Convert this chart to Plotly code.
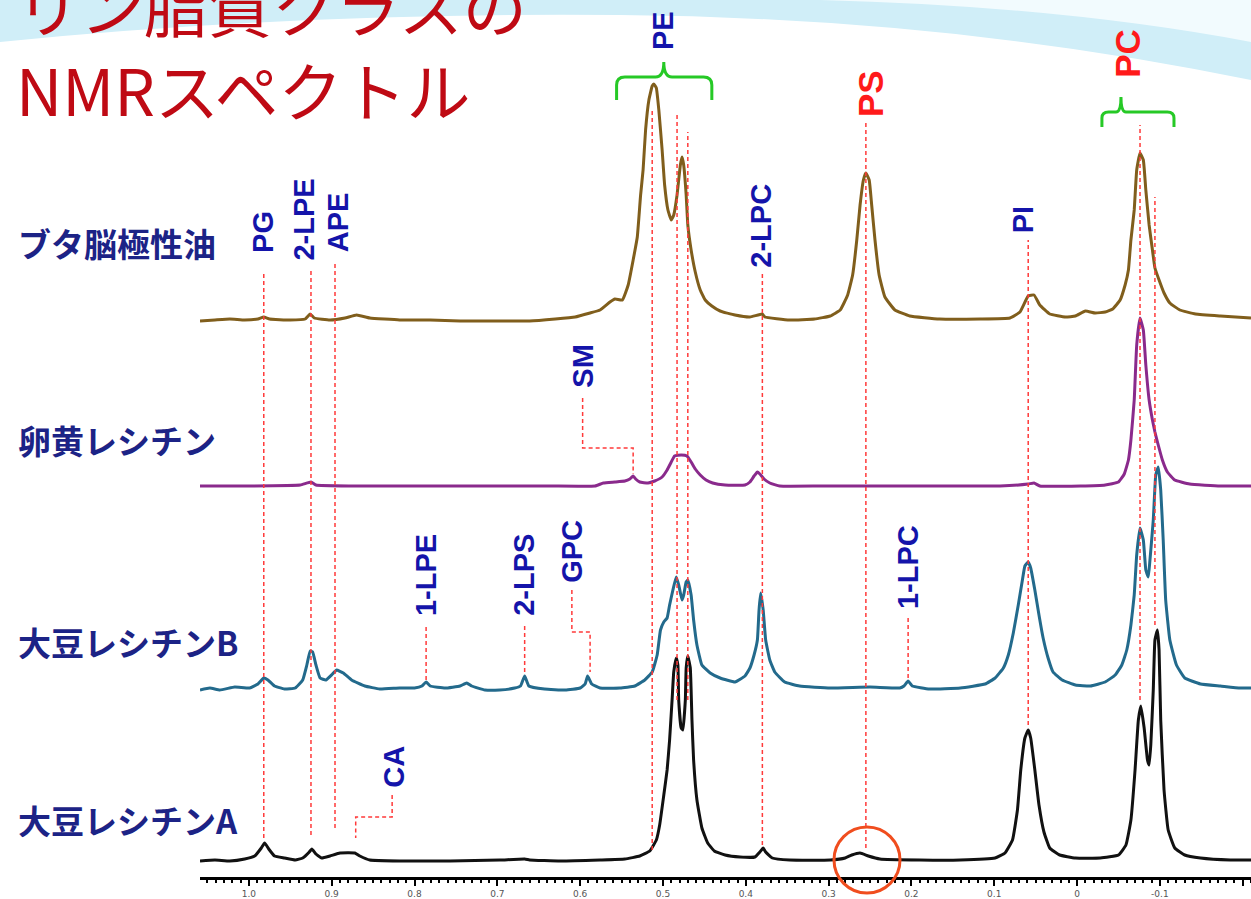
import plotly.graph_objects as go

W, H = 1251, 899

# ---------------- spectra: chemical shift (ppm) / relative intensity ----------------
buta_ppm = [1.059, 1.041, 1.023, 1.005, 0.989, 0.982, 0.975, 0.950, 0.932, 0.926, 0.921, 0.902, 0.884,
            0.870, 0.854, 0.818, 0.781, 0.745, 0.697, 0.661, 0.630, 0.606, 0.588, 0.576, 0.564, 0.558,
            0.549, 0.542, 0.536, 0.531, 0.527, 0.524, 0.521, 0.517, 0.513, 0.511, 0.508, 0.505, 0.501,
            0.498, 0.494, 0.490, 0.487, 0.483, 0.479, 0.477, 0.475, 0.472, 0.470, 0.466, 0.461, 0.455,
            0.449, 0.441, 0.431, 0.413, 0.395, 0.380, 0.377, 0.347, 0.317, 0.298, 0.286, 0.277, 0.271,
            0.266, 0.262, 0.258, 0.255, 0.251, 0.248, 0.244, 0.239, 0.232, 0.220, 0.202, 0.166, 0.117,
            0.081, 0.069, 0.059, 0.052, 0.045, 0.033, 0.014, 0.002, -0.010, -0.022, -0.034, -0.043,
            -0.052, -0.058, -0.062, -0.065, -0.069, -0.072, -0.076, -0.080, -0.083, -0.087, -0.091,
            -0.094, -0.099, -0.105, -0.112, -0.124, -0.143, -0.173, -0.210]
buta_int = [-1, 0, 1, 0, 1, 3, 1, 0, 1, 6, 2, 0, 2,
            5, 2, 0, 0, -1, -1, -1, 1, 3, 7, 10, 18, 21,
            20, 35, 60, 83, 125, 150, 190, 220, 234, 236, 232, 210, 170,
            135, 110, 100, 105, 125, 155, 163, 155, 125, 95, 70, 48, 30,
            20, 14, 9, 5, 3, 6, 3, 0, 1, 4, 10, 25, 45,
            80, 115, 140, 147, 140, 115, 80, 45, 23, 10, 4, 1, 1,
            2, 8, 24, 25, 15, 6, 3, 4, 9, 7, 8, 11,
            20, 35, 50, 80, 110, 150, 167, 160, 130, 95, 70,
            52, 40, 27, 17, 10, 6, 4, 2]

egg_ppm = [1.059, 0.999, 0.938, 0.925, 0.919, 0.878, 0.818, 0.757, 0.697, 0.636, 0.582, 0.572, 0.558,
           0.546, 0.540, 0.536, 0.533, 0.528, 0.518, 0.510, 0.501, 0.495, 0.490, 0.486, 0.478, 0.471,
           0.466, 0.461, 0.455, 0.448, 0.440, 0.425, 0.401, 0.395, 0.390, 0.386, 0.383, 0.378, 0.371,
           0.359, 0.310, 0.250, 0.153, 0.093, 0.059, 0.052, 0.045, -0.004, -0.034, -0.050, -0.057,
           -0.062, -0.065, -0.069, -0.072, -0.076, -0.080, -0.083, -0.087, -0.091, -0.094, -0.098,
           -0.103, -0.109, -0.118, -0.136, -0.173, -0.210]
egg_int = [0, 0, 1, 4, 1, 0, 0, 0, 0, 0, 0, 3, 4,
           5, 7, 10, 7, 4, 3, 5, 9, 16, 24, 30, 31, 30,
           24, 17, 11, 6, 3, 1, 1, 4, 10, 14, 12, 7, 3,
           0, 0, 0, 0, 0, 2, 3, 0, 0, 1, 4, 12,
           26, 46, 86, 141, 168, 156, 121, 86, 66, 54, 41,
           26, 14, 6, 2, 0, 0]

soyB_ppm = [1.059, 1.047, 1.035, 1.017, 0.999, 0.989, 0.982, 0.977, 0.969, 0.957, 0.944, 0.935, 0.930,
            0.926, 0.923, 0.919, 0.914, 0.907, 0.899, 0.894, 0.886, 0.876, 0.860, 0.842, 0.818, 0.800,
            0.791, 0.786, 0.781, 0.763, 0.745, 0.737, 0.731, 0.715, 0.697, 0.679, 0.672, 0.667, 0.662,
            0.643, 0.618, 0.600, 0.594, 0.591, 0.586, 0.576, 0.552, 0.534, 0.522, 0.513, 0.507, 0.503,
            0.499, 0.495, 0.492, 0.488, 0.484, 0.481, 0.477, 0.475, 0.472, 0.470, 0.466, 0.463, 0.459,
            0.453, 0.443, 0.431, 0.413, 0.401, 0.395, 0.390, 0.386, 0.384, 0.382, 0.379, 0.376, 0.371,
            0.365, 0.353, 0.335, 0.298, 0.250, 0.214, 0.209, 0.204, 0.199, 0.178, 0.141, 0.111, 0.099,
            0.089, 0.083, 0.077, 0.071, 0.066, 0.063, 0.059, 0.056, 0.051, 0.046, 0.041, 0.035, 0.029,
            0.018, 0.002, -0.016, -0.034, -0.046, -0.054, -0.060, -0.065, -0.069, -0.072, -0.076,
            -0.080, -0.083, -0.086, -0.088, -0.092, -0.095, -0.098, -0.101, -0.104, -0.107, -0.112,
            -0.120, -0.130, -0.149, -0.173, -0.197, -0.210]
soyB_int = [-2, 0, -2, 1, 0, 4, 10, 8, 2, -1, 0, 8, 23,
            37, 36, 23, 10, 8, 14, 18, 15, 8, 2, -1, 0, 0,
            2, 6, 2, 0, 2, 5, 2, -2, -2, 0, 2, 12, 2,
            -1, -2, 0, 4, 12, 4, 0, 0, 2, 8, 16, 33, 58,
            66, 70, 83, 98, 111, 103, 88, 93, 106, 108, 93, 68, 43,
            23, 15, 10, 6, 12, 20, 33, 48, 78, 95, 78, 48, 28,
            16, 6, 2, 0, 1, 0, 2, 7, 2, -1, 0, 4, 10,
            20, 33, 55, 83, 108, 122, 126, 120, 98, 73, 50, 30, 16,
            8, 3, 2, 6, 13, 23, 38, 63, 93, 133, 160,
            148, 118, 111, 128, 168, 213, 221, 198, 148, 88, 48,
            23, 10, 4, 2, 0, 0]

soyA_ppm = [1.059, 1.041, 1.023, 1.005, 0.993, 0.985, 0.981, 0.976, 0.969, 0.957, 0.944, 0.935, 0.927,
            0.924, 0.919, 0.912, 0.902, 0.890, 0.872, 0.866, 0.854, 0.818, 0.757, 0.697, 0.667, 0.661,
            0.624, 0.576, 0.546, 0.528, 0.516, 0.508, 0.504, 0.499, 0.495, 0.492, 0.489, 0.487, 0.484,
            0.482, 0.481, 0.478, 0.476, 0.473, 0.472, 0.470, 0.467, 0.465, 0.463, 0.459, 0.453, 0.446,
            0.438, 0.425, 0.407, 0.389, 0.383, 0.379, 0.376, 0.368, 0.347, 0.298, 0.280, 0.272, 0.262,
            0.252, 0.238, 0.190, 0.141, 0.099, 0.087, 0.078, 0.072, 0.068, 0.063, 0.059, 0.056, 0.051,
            0.046, 0.040, 0.033, 0.021, 0.002, -0.028, -0.050, -0.059, -0.065, -0.070, -0.074, -0.077,
            -0.081, -0.085, -0.087, -0.089, -0.092, -0.094, -0.097, -0.099, -0.101, -0.105, -0.110,
            -0.118, -0.130, -0.149, -0.185, -0.210]
soyA_int = [-1, 0, -1, 1, 4, 12, 17, 11, 4, 2, 0, 2, 8,
            11, 6, 2, 4, 7, 7, 4, 0, -1, -1, 0, 1, 0,
            -1, 0, 1, 4, 9, 20, 35, 65, 90, 120, 160, 188, 202,
            195, 160, 132, 130, 160, 192, 204, 192, 140, 100, 60, 32, 17,
            9, 5, 3, 3, 8, 12, 8, 2, 0, 0, 2, 5, 7,
            4, 1, 0, 0, 2, 7, 20, 50, 90, 122, 130, 122, 90,
            55, 28, 12, 5, 2, 2, 5, 15, 40, 90, 140, 154,
            132, 100, 95, 115, 170, 220, 230, 210, 140, 70, 30,
            12, 5, 2, 0, 0]

sample_names = ["ブタ脳極性油", "卵黄レシチン", "大豆レシチンB", "大豆レシチンA"]
spectra = [(buta_ppm, buta_int), (egg_ppm, egg_int), (soyB_ppm, soyB_int), (soyA_ppm, soyA_int)]

# ---------------- axis ticks ----------------
tick_vals = [1.0, 0.9, 0.8, 0.7, 0.6, 0.5, 0.4, 0.3, 0.2, 0.1, 0.0, -0.1, -0.2]
tick_text = ["1.0", "0.9", "0.8", "0.7", "0.6", "0.5", "0.4", "0.3", "0.2", "0.1", "0", "-0.1", "-0.2"]

# ---------------- peak assignments ----------------
assign_names = ["PG", "2-LPE", "APE", "1-LPE", "2-LPS", "GPC", "SM", "PE", "2-LPC", "PS", "1-LPC", "PI", "PC", "CA"]
assign_ppm = [0.983, 0.934, 0.892, 0.786, 0.668, 0.610, 0.597, 0.500, 0.382, 0.250, 0.204, 0.065, -0.060, 0.825]
major_classes = ["PS", "PC"]

# reference positions of the dashed marker lines (ppm)
marker_ppm = [0.982, 0.925, 0.896, 0.786, 0.667, 0.513, 0.483, 0.470, 0.380, 0.255, 0.204, 0.059, -0.076, -0.094]

# ---------------- styling / layout ----------------
trace_colors = ["#805e1c", "#8a2a8c", "#236a8c", "#111111"]
trace_offsets = [557, 391, 189, 17]
name_y = [634, 437, 235, 57]
label_y = [645, 657, 655, 302, 302, 326, 511, 847, 651, 783, 310, 657, 824, 110]
marker_top = [605, 607, 615, 252, 252, 767, 765, 745, 605, 755, 262, 637, 752, 680]
marker_bottom = [39, 42, 49, 197, 205, 27, 177, 177, 32, 29, 199, 152, 177, 252]
elbows = [
    ([0.597, 0.597, 0.536, 0.536], [479, 429, 429, 403]),   # SM
    ([0.610, 0.610, 0.588, 0.588], [287, 245, 245, 205]),   # GPC
    ([0.827, 0.827, 0.871, 0.871], [82, 60, 60, 39]),       # CA
]
RED_DASH = "#ff3a3a"


def px(x):
    return x / W


def py(y):
    return 1 - y / H


def paper_path(points):
    out = []
    for cmd, pts in points:
        if cmd == "Z":
            out.append("Z")
            continue
        coords = " ".join(f"{px(a):.4f},{py(b):.4f}" for a, b in pts)
        out.append(f"{cmd} {coords}")
    return " ".join(out)


fig = go.Figure()

for (xs, ys), col, off in zip(spectra, trace_colors, trace_offsets):
    fig.add_trace(go.Scatter(
        x=xs, y=[v + off for v in ys], mode="lines",
        line=dict(color=col, width=3, shape="spline", smoothing=0.35),
        hoverinfo="skip", showlegend=False))

# dashed assignment markers
for xm, yt, yb in zip(marker_ppm, marker_top, marker_bottom):
    fig.add_trace(go.Scatter(
        x=[xm, xm], y=[yb, yt], mode="lines",
        line=dict(color=RED_DASH, width=1.5, dash="4px,3px"),
        hoverinfo="skip", showlegend=False))
for ex, ey in elbows:
    fig.add_trace(go.Scatter(
        x=ex, y=ey, mode="lines",
        line=dict(color=RED_DASH, width=1.5, dash="4px,3px"),
        hoverinfo="skip", showlegend=False))

annotations = []
for name, xv, yv in zip(assign_names, assign_ppm, label_y):
    big = name in major_classes
    annotations.append(dict(
        x=xv, y=yv, xref="x", yref="y", text=f"<b>{name}</b>", showarrow=False,
        textangle=-90, xanchor="center", yanchor="middle",
        font=dict(family="Liberation Sans, Arial", size=35 if big else 29,
                  color="#ff1a1a" if big else "#1414aa")))

for name, yv in zip(sample_names, name_y):
    annotations.append(dict(
        x=px(16), y=yv, xref="paper", yref="y", text=f"<b>{name}</b>", showarrow=False,
        xanchor="left", yanchor="middle",
        font=dict(family="Noto Sans CJK JP", size=33, color="#1c2386")))

annotations.append(dict(x=px(14), y=py(4), xref="paper", yref="paper", text="リン脂質クラスの",
                        showarrow=False, xanchor="left", yanchor="middle",
                        font=dict(family="Noto Sans CJK JP", size=64, color="#bf0a14")))
annotations.append(dict(x=px(14), y=py(88), xref="paper", yref="paper", text="NMRスペクトル",
                        showarrow=False, xanchor="left", yanchor="middle",
                        font=dict(family="Noto Sans CJK JP", size=64, color="#bf0a14")))

shapes = [
    # pale blue sweep across the top of the slide
    dict(type="path", xref="paper", yref="paper", layer="below", line=dict(width=0),
         fillcolor="#d0eef8",
         path=paper_path([("M", [(0, 0)]), ("L", [(1251, 0)]), ("L", [(1251, 80)]),
                          ("Q", [(950, 18), (620, 15)]), ("Q", [(300, 12), (0, 42)]), ("Z", [])])),
    dict(type="path", xref="paper", yref="paper", layer="below", line=dict(width=0),
         fillcolor="#f2fbfe",
         path=paper_path([("M", [(820, 0)]), ("L", [(1251, 0)]), ("L", [(1251, 42)]),
                          ("Q", [(1060, 6), (820, 0)]), ("Z", [])])),
    # green brackets grouping the PE and PC signals
    dict(type="path", xref="x", yref="y", line=dict(color="#26c926", width=3),
         path="M 0.556,777 L 0.556,792 Q 0.556,800 0.546,800 L 0.509,800 Q 0.499,800 0.499,815 "
              "Q 0.499,800 0.489,800 L 0.451,800 Q 0.441,800 0.441,792 L 0.441,777"),
    dict(type="path", xref="x", yref="y", line=dict(color="#26c926", width=3),
         path="M -0.030,750 L -0.030,759 Q -0.030,765 -0.038,765 L -0.047,765 Q -0.053,765 -0.053,780 "
              "Q -0.053,765 -0.059,765 L -0.109,765 Q -0.117,765 -0.117,759 L -0.117,750"),
    # highlight ring around the weak PS signal
    dict(type="circle", xref="paper", yref="paper",
         x0=px(834), x1=px(900), y0=py(893), y1=py(827),
         line=dict(color="#f04d1e", width=3)),
]

fig.update_layout(
    width=W, height=H,
    margin=dict(l=0, r=0, t=0, b=0),
    paper_bgcolor="white", plot_bgcolor="rgba(0,0,0,0)",
    showlegend=False, hovermode=False,
    annotations=annotations, shapes=shapes,
    xaxis=dict(
        domain=[px(200), 1], range=[1.059, -0.210], autorange=False,
        showgrid=False, zeroline=False,
        showline=True, linecolor="black", linewidth=2.5,
        tickmode="array", tickvals=tick_vals, ticktext=tick_text,
        ticks="outside", ticklen=6, tickwidth=2, tickcolor="black",
        minor=dict(dtick=0.01, tick0=0, ticks="outside", ticklen=3, tickwidth=1.5, tickcolor="black"),
        tickfont=dict(family="DejaVu Sans", size=9, color="#555555"),
        automargin=False, fixedrange=True),
    yaxis=dict(
        domain=[1 - 877 / H, 1], range=[0, 877], autorange=False,
        visible=False, showgrid=False, zeroline=False, fixedrange=True),
)

fig.write_html("out.html")
